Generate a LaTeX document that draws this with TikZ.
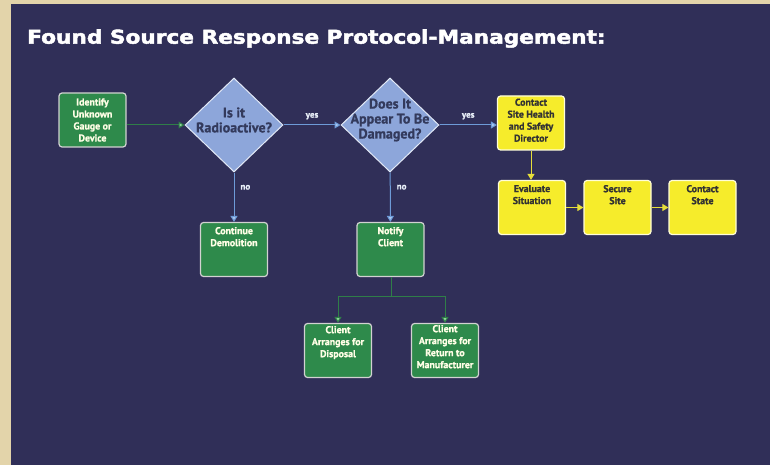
\documentclass[tikz,border=0pt]{standalone}
\usepackage{fontspec}
\usepackage{tikz}
\usetikzlibrary{arrows.meta,shapes.geometric,positioning}
\newfontfamily\boxfont{PT Sans}[BoldFeatures={FakeBold=1.1}]
\newfontfamily\titlefont{DejaVu Sans}[BoldFeatures={FakeBold=2.2}]
\definecolor{navy}{HTML}{302F58}
\definecolor{frame}{HTML}{E3D4AA}
\definecolor{boxgreen}{HTML}{2E8A4B}
\definecolor{linegreen}{HTML}{2F7E48}
\definecolor{tipgreen}{HTML}{8FD39A}
\definecolor{boxyellow}{HTML}{F6EC2B}
\definecolor{lineyellow}{HTML}{E6DE3A}
\definecolor{diafill}{HTML}{8DA6DA}
\definecolor{diatext}{HTML}{333A5C}
\definecolor{lineblue}{HTML}{6E9BD8}
\definecolor{tipblue}{HTML}{A9C6EE}
\newcommand{\arw}{-{Triangle[length=6pt,width=7pt]}}

\begin{document}
\begin{tikzpicture}[x=1pt,y=-1pt,
  gbox/.style={draw=gray!35,line width=1.2pt,fill=boxgreen,rounded corners=3pt,
    minimum width=67pt,minimum height=54pt,inner sep=0pt},
  ybox/.style={gbox,draw=yellow!15,fill=boxyellow},
  gtxt/.style={text=white!90!yellow,align=center,inner sep=0pt,
    font=\boxfont\bfseries\fontsize{9.9}{12}\selectfont},
  ytxt/.style={gtxt,text=black!80},
  qdia/.style={diamond,draw=white!75!diafill,line width=1pt,fill=diafill,
    minimum width=98pt,minimum height=94pt,inner sep=0pt},
  qtxt/.style={text=diatext,align=center,inner sep=0pt,
    font=\boxfont\bfseries\fontsize{14}{15}\selectfont},
  lbl/.style={text=white!85!lineblue,inner sep=0pt,
    font=\boxfont\bfseries\fontsize{9}{10}\selectfont},
  garw/.style={draw=linegreen,line width=1pt,-{Triangle[length=6pt,width=7pt,fill=tipgreen]}},
  barw/.style={draw=lineblue,line width=1pt,-{Triangle[length=6pt,width=7pt,fill=tipblue]}},
  yarw/.style={draw=lineyellow,line width=1pt,\arw}]
\useasboundingbox (0,0) rectangle (770,465);
%background
\fill[frame] (0,0) rectangle (770,465);
\fill[navy] (11,4) rectangle (770,465);
\node[anchor=west,text=white,inner sep=0pt,xscale=1.14,
  font=\titlefont\bfseries\fontsize{19}{22}\selectfont] (title) at (27,38.5)
  {Found Source Response Protocol-Management:};
%first row
\node[gbox] (ident) at (92.5,120) {};
\node[gtxt] at (ident.center) {Identify\\Unknown\\Gauge or\\Device};
\node[qdia] (rad) at (234,125) {};
\node[qtxt] at (234,120) {Is it\\Radioactive?};
\node[qdia] (dam) at (390,125) {};
\node[qtxt] at (390,120) {Does It\\Appear To Be\\Damaged?};
\node[ybox] (hsd) at (531,123) {};
\node[ytxt,anchor=north] at ([yshift=-3pt]hsd.north) {Contact\\Site Health\\and Safety\\Director};
%yellow row
\node[ybox] (eval) at (532,207.5) {};
\node[ytxt,anchor=north] at ([yshift=-5pt]eval.north) {Evaluate\\Situation};
\node[ybox] (secure) at (617.5,207.5) {};
\node[ytxt,anchor=north] at ([yshift=-5pt]secure.north) {Secure\\Site};
\node[ybox] (state) at (702.5,207.5) {};
\node[ytxt,anchor=north] at ([yshift=-5pt]state.north) {Contact\\State};
%green rows
\node[gbox] (cont) at (234,249.5) {};
\node[gtxt,anchor=north] at ([yshift=-5pt]cont.north) {Continue\\Demolition};
\node[gbox] (notify) at (390.5,249.5) {};
\node[gtxt,anchor=north] at ([yshift=-5pt]notify.north) {Notify\\Client};
\node[gbox] (disp) at (338,350.5) {};
\node[gtxt,anchor=north] at ([yshift=-3pt]disp.north) {Client\\Arranges for\\Disposal};
\node[gbox] (ret) at (445,350.5) {};
\node[gtxt,anchor=north] at ([yshift=-2pt]ret.north) {Client\\Arranges for\\Return to\\Manufacturer};
%connectors
\draw[garw] (ident.east |- rad.west) -- (rad.west);
\draw[barw] (rad) -- node[lbl,above=5pt] {yes} (dam);
\draw[barw] (dam) -- node[lbl,above=5pt] {yes} (hsd.west |- dam);
\draw[barw] (rad) -- node[lbl,right=6pt,pos=0.3] {no} (cont);
\draw[barw] (dam) -- node[lbl,right=6pt,pos=0.3] {no} (notify);
\draw[yarw] (hsd) -- (hsd |- eval.north);
\draw[yarw] (eval) -- (secure);
\draw[yarw] (secure) -- (state);
\coordinate (split) at (391,296);
\draw[linegreen,line width=1pt] (notify.south -| split) -- (split);
\draw[garw] (split) -| (disp.north);
\draw[garw] (split) -| (ret.north);
\end{tikzpicture}
\end{document}
